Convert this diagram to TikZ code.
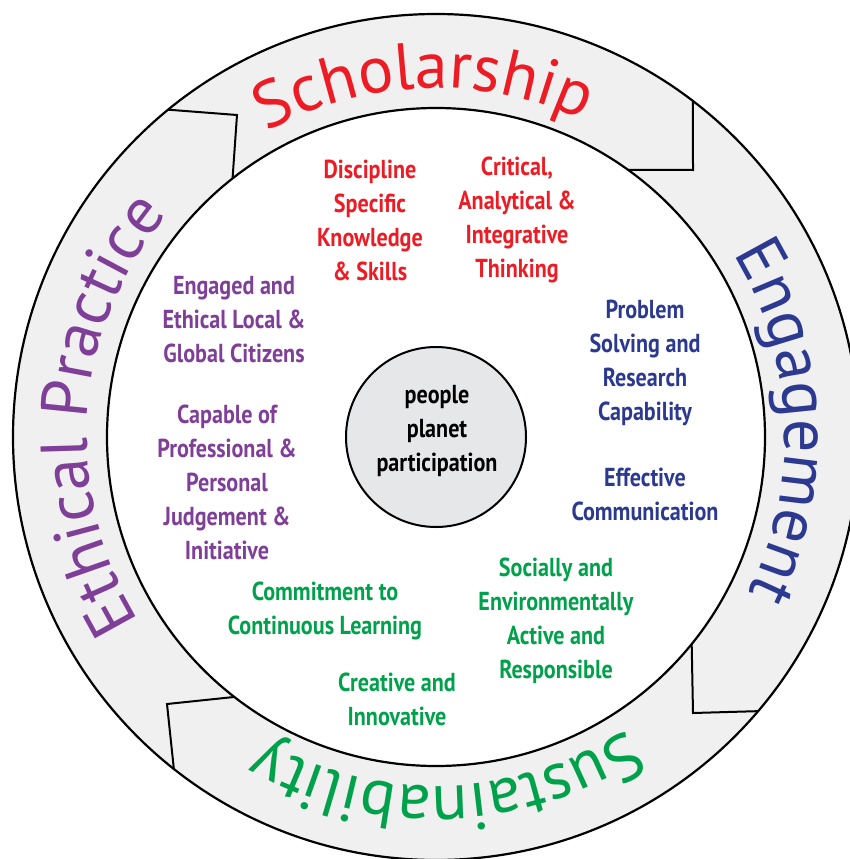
\documentclass[tikz,border=0pt]{standalone}
\usepackage{fontspec}
\usetikzlibrary{calc,decorations.text}
\newfontfamily\ringfont{PT Sans}
\newfontfamily\condfont[FakeStretch=0.85]{PT Sans}
\definecolor{schred}{HTML}{ED1C24}
\definecolor{engblue}{HTML}{2B3990}
\definecolor{susgreen}{HTML}{00A14B}
\definecolor{ethpurple}{HTML}{7F3F98}
\definecolor{ringgrey}{HTML}{F0F0F0}
\definecolor{hubgrey}{HTML}{E6E7E8}

\begin{document}
\begin{tikzpicture}[x=1pt,y=1pt,
  ringline/.style={line width=2.2pt, draw=black},
  divider/.style={line width=2pt, draw=black, line join=miter},
  attr/.style={font=\condfont\bfseries\fontsize{26}{34}\selectfont, align=center, inner sep=0pt},
  ringlabel/.style={decorate, decoration={text along path, text align=center, text color=#1}},
]
\useasboundingbox (0,0) rectangle (850,-859);
\coordinate (C) at (436,-437);

% grey ring between the two circles
\fill[ringgrey, even odd rule] (C) circle[radius=423pt] (C) circle[radius=329pt];
\node[circle, ringline, minimum size=846pt, inner sep=0pt] (outer) at (C) {};
\node[circle, ringline, minimum size=658pt, inner sep=0pt] (inner) at (C) {};

% stepped joints between the four ring segments
\draw[divider] ($(C)+(129.3:423pt)$) coordinate (tlo) -- (237,-115) coordinate (tlc) -- ($(C)+(128.2:329pt)$) coordinate (tli);
\draw[divider] ($(C)+(52.6:423pt)$) coordinate (tro) -- (693,-170) coordinate (trc) -- ($(C)+(54.3:329pt)$) coordinate (tri);
\draw[divider] ($(C)+(-39.0:329pt)$) coordinate (bri) -- (693,-713) coordinate (brc) -- ($(C)+(-40.4:423pt)$) coordinate (bro);
\draw[divider] ($(C)+(232.2:329pt)$) coordinate (bli) -- (167,-704) coordinate (blc) -- ($(C)+(231.7:423pt)$) coordinate (blo);

% curved segment titles, set clockwise round the ring
\path[ringlabel=schred] ($(C)+(152:349pt)$) arc[start angle=152, end angle=32, radius=349pt]
  [decoration={text={|\ringfont\fontsize{66}{66}\selectfont|Scholarship}}];
\path[ringlabel=engblue] ($(C)+(62.6:349pt)$) arc[start angle=62.6, end angle=-57.4, radius=349pt]
  [decoration={text={|\ringfont\fontsize{66}{66}\selectfont|Engagement}}];
\path[ringlabel=susgreen] ($(C)+(-28.2:349pt)$) arc[start angle=-28.2, end angle=-148.2, radius=349pt]
  [decoration={text={|\ringfont\fontsize{66}{66}\selectfont|Sustainability}}];
\path[ringlabel=ethpurple] ($(C)+(236:349pt)$) arc[start angle=236, end angle=116, radius=349pt]
  [decoration={text={|\ringfont\fontsize{66}{66}\selectfont|Ethical Practice}}];

% hub
\node[circle, draw=black, line width=2pt, fill=hubgrey, minimum size=180pt, inner sep=0pt] (hub) at (C) {};
\node[attr, text=black] (hubtext) at (437,-431) {people\\planet\\participation};

% graduate attributes
\node[attr, text=schred] (dsk) at (370,-220) {Discipline\\Specific\\Knowledge\\\& Skills};
\node[attr, text=schred] (cai) at (517,-220) {Critical,\\Analytical \&\\Integrative\\Thinking};
\node[attr, text=engblue] (psr) at (645,-363) {Problem\\Solving and\\Research\\Capability};
\node[attr, text=engblue] (eco) at (645,-494) {Effective\\Communication};
\node[attr, text=susgreen] (sea) at (556,-621) {Socially and\\Environmentally\\Active and\\Responsible};
\node[attr, text=susgreen] (cin) at (397,-699) {Creative and\\Innovative};
\node[attr, text=susgreen] (ccl) at (325,-611) {Commitment to\\Continuous Learning};
\node[attr, text=ethpurple] (cpp) at (227,-482) {Capable of\\Professional \&\\Personal\\Judgement \&\\Initiative};
\node[attr, text=ethpurple] (eel) at (234,-320) {Engaged and\\Ethical Local \&\\Global Citizens};
\end{tikzpicture}
\end{document}
